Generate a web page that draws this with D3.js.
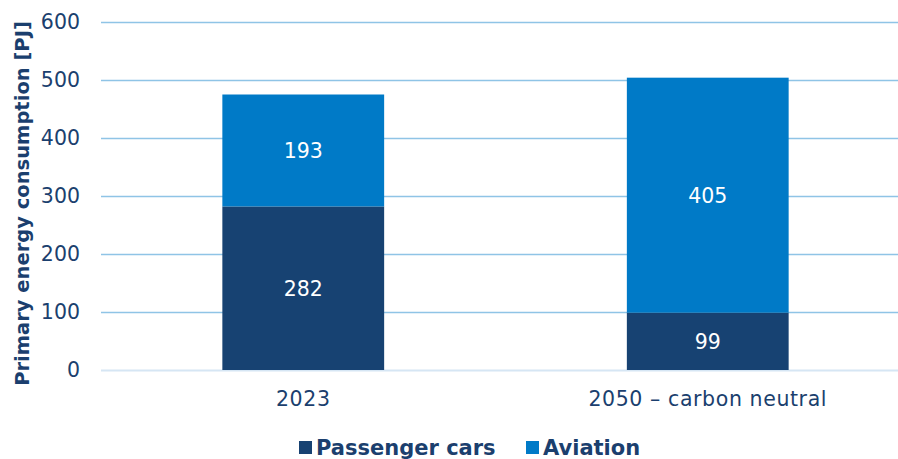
<!DOCTYPE html>
<html>
<head>
<meta charset="utf-8">
<script src="https://cdn.jsdelivr.net/npm/d3@7"></script>
<style>
  html, body { margin: 0; padding: 0; background: #ffffff; }
  svg { display: block; font-family: "DejaVu Sans", Verdana, sans-serif; }
</style>
</head>
<body>
<svg id="chart" width="898" height="459"></svg>
<script>
// Primary energy consumption by transport mode [PJ]
const categories = ["2023", "2050 \u2013 carbon neutral"];
const seriesNames = ["Passenger cars", "Aviation"];
const passengerCars = [282, 99];
const aviation = [193, 405];
const yTicks = [0, 100, 200, 300, 400, 500, 600];

const colors = { "Passenger cars": "#174272", "Aviation": "#007ac7" };
const textColor = "#1b3f6e";
const fontStack = '"DejaVu Sans", Verdana, sans-serif';

const svg = d3.select("#chart");
const W = 898, H = 459;
const plot = { left: 101, right: 910, top: 22, bottom: 370 };

const x = d3.scaleBand()
  .domain(categories)
  .range([plot.left, plot.right])
  .paddingInner(0.6)
  .paddingOuter(0.3);

const y = d3.scaleLinear()
  .domain([0, 600])
  .range([plot.bottom, plot.top]);

// gridlines and value axis
const yAxis = d3.axisLeft(y).tickValues(yTicks).tickSize(-(W - plot.left));
const gy = svg.append("g")
  .attr("transform", `translate(${plot.left},0)`)
  .call(yAxis)
  .attr("font-family", fontStack);
gy.select(".domain").remove();
gy.selectAll(".tick line")
  .attr("stroke", d => d === 0 ? "#d6e6f4" : "#8fc4e6")
  .attr("stroke-width", d => d === 0 ? 2 : 1.3);
gy.selectAll(".tick text")
  .attr("x", -21)
  .attr("fill", textColor)
  .style("font-size", "20.5px");

// stacked bars
const rows = categories.map((c, i) => ({ category: c, "Passenger cars": passengerCars[i], "Aviation": aviation[i] }));
const stacked = d3.stack().keys(seriesNames)(rows);

const layers = svg.append("g").selectAll("g")
  .data(stacked)
  .join("g")
  .attr("fill", d => colors[d.key]);

layers.selectAll("rect")
  .data(d => d)
  .join("rect")
  .attr("x", d => x(d.data.category))
  .attr("width", x.bandwidth())
  .attr("y", d => y(d[1]))
  .attr("height", d => y(d[0]) - y(d[1]));

// segment values, centred in each segment
layers.selectAll("text")
  .data(d => d.map(v => ({ v, key: d.key })))
  .join("text")
  .attr("x", d => x(d.v.data.category) + x.bandwidth() / 2)
  .attr("y", d => (y(d.v[0]) + y(d.v[1])) / 2)
  .attr("dy", "0.36em")
  .attr("text-anchor", "middle")
  .attr("fill", "#ffffff")
  .style("font-size", "20.5px")
  .text(d => d.v.data[d.key]);

// category labels
const xAxis = d3.axisBottom(x).tickSize(0).tickPadding(21);
const gx = svg.append("g")
  .attr("transform", `translate(0,${plot.bottom})`)
  .call(xAxis)
  .attr("font-family", fontStack);
gx.select(".domain").remove();
gx.selectAll(".tick text")
  .attr("fill", textColor)
  .style("font-size", "20.5px")
  .style("letter-spacing", "0.6px");

// y-axis title
svg.append("text")
  .attr("transform", `translate(29,203.5) rotate(-90)`)
  .attr("text-anchor", "middle")
  .attr("fill", textColor)
  .style("font-size", "19.5px")
  .style("font-weight", "bold")
  .text("Primary energy consumption [PJ]");

// legend
const legendItems = [
  { name: "Passenger cars", x: 299 },
  { name: "Aviation", x: 526 }
];
const lg = svg.append("g").selectAll("g")
  .data(legendItems)
  .join("g")
  .attr("transform", d => `translate(${d.x},441)`);
lg.append("rect")
  .attr("width", 13).attr("height", 13)
  .attr("fill", d => colors[d.name]);
lg.append("text")
  .attr("x", 17)
  .attr("y", 14)
  .attr("fill", textColor)
  .style("font-size", "21px")
  .style("font-weight", "bold")
  .text(d => d.name);
</script>
</body>
</html>
